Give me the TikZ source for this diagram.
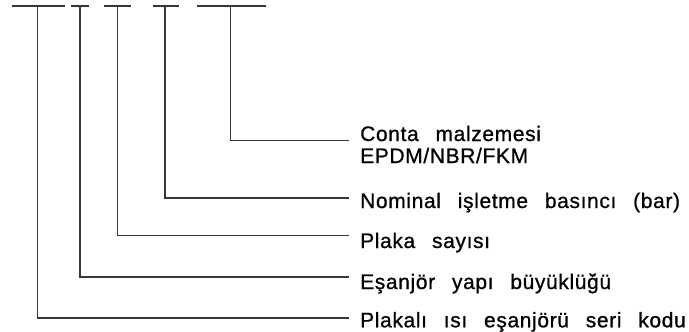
\documentclass[tikz,border=0pt]{standalone}
\usepackage{fontspec}
\newfontfamily\labfont[LetterSpace=3,WordSpace={2.6,1,1},FakeBold=0.8]{Liberation Sans}
\definecolor{ink}{RGB}{58,54,50}
\begin{document}
\begin{tikzpicture}[x=1pt,y=-1pt,
  bar/.style={draw=ink,line width=1.6pt},
  lead/.style={draw=ink,line width=1.3pt},
  lab/.style={anchor=base west,inner sep=0pt,text=black,font=\labfont\fontsize{21}{24}\selectfont}]
\useasboundingbox (0,0) rectangle (689,332);
% top bars
\draw[bar] (11.5,6) -- (65,6);
\draw[bar] (71,6) -- (88.5,6);
\draw[bar] (104,6) -- (131,6);
\draw[bar] (152.5,6) -- (178.5,6);
\draw[bar] (196.5,6) -- (266,6);
% stem tops
\coordinate (t1) at (37.3,6);
\coordinate (t2) at (80,6);
\coordinate (t3) at (117.3,6);
\coordinate (t4) at (165,6);
\coordinate (t5) at (230.7,6);
% line ends
\coordinate (e1) at (349,318);
\coordinate (e2) at (349,277);
\coordinate (e3) at (349,235.5);
\coordinate (e4) at (349,198);
\coordinate (e5) at (349,140.5);
% labels
\node[lab] (l5a) at (360,141) {Conta malzemesi};
\node[lab] (l5b) at (360,163) {EPDM/NBR/FKM};
\node[lab] (l4) at (360,208) {Nominal işletme basıncı (bar)};
\node[lab] (l3) at (360,248) {Plaka sayısı};
\node[lab] (l2) at (360,289) {Eşanjör yapı büyüklüğü};
\node[lab] (l1) at (360,327.3) {Plakalı ısı eşanjörü seri kodu};
% leaders
\draw[lead] (t1) |- (e1);
\draw[lead] (t2) |- (e2);
\draw[lead] (t3) |- (e3);
\draw[lead] (t4) |- (e4);
\draw[lead] (t5) |- (e5);
\end{tikzpicture}
\end{document}
